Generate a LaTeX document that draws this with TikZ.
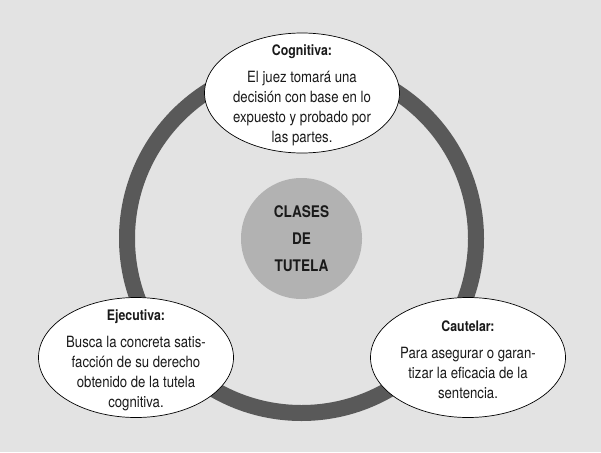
\documentclass[tikz,border=0pt]{standalone}
\usepackage{fontspec}
\setmainfont{TeX Gyre Heros}[FakeStretch=0.85]
\newfontfamily\centfont{TeX Gyre Heros}[FakeStretch=0.85]
\usetikzlibrary{shapes.geometric}
\definecolor{bgc}{HTML}{E3E3E3}
\definecolor{ringc}{HTML}{595959}
\definecolor{centc}{HTML}{B2B2B2}
\definecolor{txtc}{HTML}{1A1A1A}
\newcommand{\bubtitle}[1]{{\fontsize{14.5}{20}\selectfont\bfseries #1}}
\tikzset{
  ringnode/.style={circle, draw=ringc, line width=16pt, minimum size=349pt, inner sep=0pt},
  centnode/.style={circle, fill=centc, minimum size=121pt, inner sep=0pt},
  bubble/.style={ellipse, draw=black, line width=0.7pt, fill=white, minimum width=195pt, minimum height=120pt, inner sep=0pt},
  bodytxt/.style={align=center, text=txtc, inner sep=0pt, yshift=-2.5pt, font=\fontsize{15.5}{20}\selectfont},
  centtxt/.style={align=center, text=txtc, inner sep=0pt, font=\centfont\fontsize{16}{27}\selectfont\bfseries},
}
\begin{document}
\begin{tikzpicture}[x=1pt,y=-1pt]
\fill[bgc] (0,0) rectangle (601,452);
\useasboundingbox (0,0) rectangle (601,452);
\node[ringnode] (ring) at (301.5,238.5) {};
\node[centnode] (cent) at (301.5,238.5) {};
\node[centtxt] (centlabel) at (cent) {CLASES\\DE\\TUTELA};
\node[bubble] (cog) at (302,93) {};
\node[bubble] (eje) at (136,357.5) {};
\node[bubble] (cau) at (468,357.5) {};
\node[bodytxt] (cogtxt) at (cog) {\bubtitle{Cognitiva:}\\[7pt]El juez tomará una\\decisión con base en lo\\expuesto y probado por\\las partes.};
\node[bodytxt] (ejetxt) at (eje) {\bubtitle{Ejecutiva:}\\[7pt]Busca la concreta satis-\\facción de su derecho\\obtenido de la tutela\\cognitiva.};
\node[bodytxt] (cautxt) at (cau) {\bubtitle{Cautelar:}\\[7pt]Para asegurar o garan-\\tizar la eficacia de la\\sentencia.};
\end{tikzpicture}
\end{document}
